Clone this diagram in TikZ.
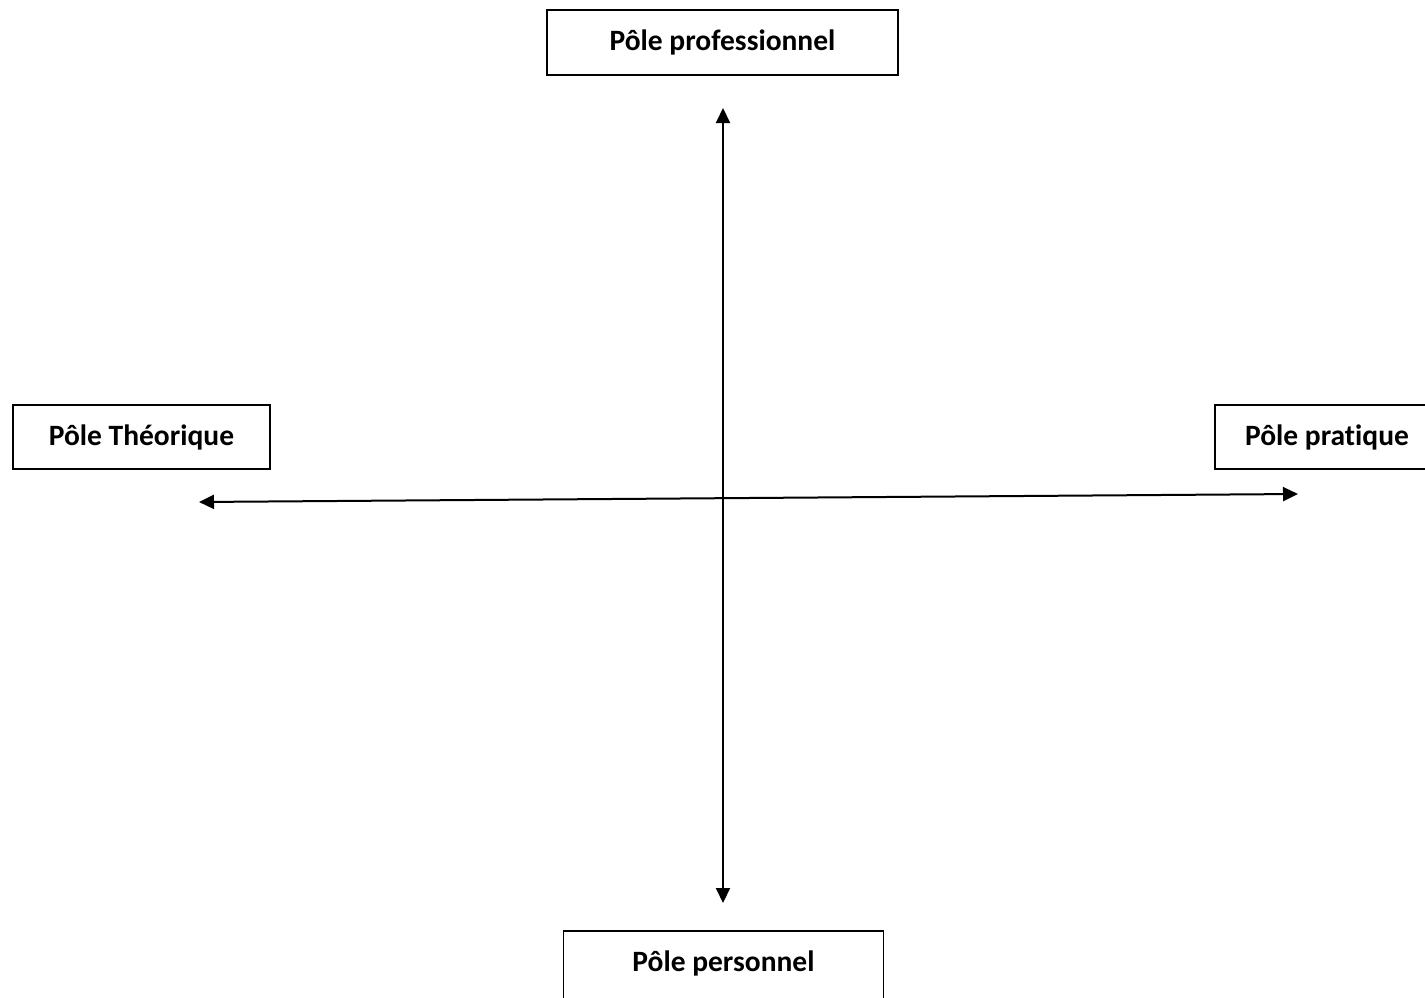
\documentclass[tikz,border=0pt]{standalone}
\usepackage{fontspec}
\setmainfont[Ligatures=NoCommon]{Carlito}
\usetikzlibrary{arrows.meta}
\begin{document}
\begin{tikzpicture}[x=1pt,y=-1pt,
  pole/.style={draw=black,line width=1.6pt,fill=white,inner sep=0pt,font=\bfseries\fontsize{29.5}{34}\selectfont,text=black},
  poletext/.style={inner sep=0pt,font=\bfseries\fontsize{29.5}{34}\selectfont,text=black},
  axis/.style={line width=2pt,{Triangle[length=15pt,width=14pt]}-{Triangle[length=15pt,width=14pt]}}]
\useasboundingbox (0,0) rectangle (1425,998);
\clip (0,0) rectangle (1425,998);
\fill[white] (0,0) rectangle (1425,998);
\node[pole,minimum width=351pt,minimum height=65pt] (top) at (722.5,42.5) {Pôle professionnel};
\node[pole,minimum width=257pt,minimum height=64pt] (left) at (141.5,437) {Pôle Théorique};
\node[pole,minimum width=300pt,minimum height=64pt] (right) at (1365,437) {};
\node[poletext] (righttext) at (1327,437) {Pôle pratique};
\node[pole,minimum width=320pt,minimum height=90pt] (bottom) at (723.5,976) {};
\node[poletext] (bottomtext) at (723.5,963) {Pôle personnel};
\coordinate (vt) at (723,108);
\coordinate (vb) at (723,903);
\coordinate (hl) at (199,502);
\coordinate (hr) at (1298,494);
\draw[axis] (vb) -- (vt);
\draw[axis] (hl) -- (hr);
\end{tikzpicture}
\end{document}
